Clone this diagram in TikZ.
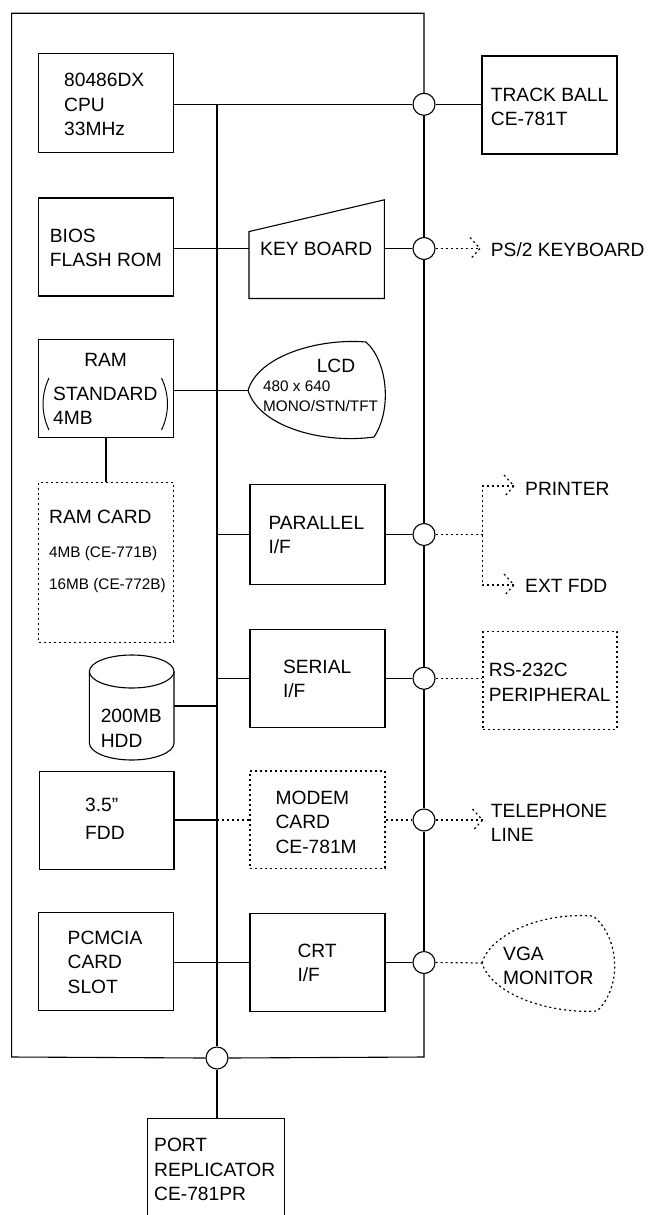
\documentclass[tikz,border=0pt]{standalone}
\usepackage{fontspec}
\setmainfont{Liberation Sans}
\usetikzlibrary{calc}
\newcommand\bigtxt{\fontsize{19.2}{24.5}\selectfont}
\newcommand\smalltxt{\fontsize{15.3}{20}\selectfont}
\tikzset{
  wire/.style={line width=1.1pt},
  dotl/.style={line width=1.2pt, dash pattern=on 2pt off 3pt},
  box/.style={draw, line width=1.1pt, inner sep=0pt, minimum width=135pt, minimum height=98pt},
  dbox/.style={box, solid, dotl},
  ghost/.style={inner sep=0pt, minimum width=135pt, minimum height=98pt},
  jn/.style={circle, draw, line width=1.1pt, minimum size=22pt, inner sep=0pt},
  txt/.style={anchor=base west, inner sep=0pt, align=left, font=\bigtxt},
}
\newcommand\dothead[1]{\draw[dotl] (#1) ++(-10,-11) -- (#1) -- ++(-10,11);}
\begin{document}
\begin{tikzpicture}[x=1pt,y=-1pt]
\useasboundingbox (0,0) rectangle (648,1215);
% junctions
\node[jn] (c1) at (424,104.3) {};
\node[jn] (c2) at (424,248.5) {};
\node[jn] (c3) at (424,534.5) {};
\node[jn] (c4) at (424,678.3) {};
\node[jn] (c5) at (424,820) {};
\node[jn] (c6) at (424,962.5) {};
\node[jn] (cb) at (217,1058) {};
% outer board outline
\coordinate (otr) at (424,13.3);
\coordinate (otl) at (11.6,13.3);
\coordinate (obl) at (11.6,1057);
\coordinate (obr) at (424,1057);
\draw[wire] (c1.north) -- (otr) -- (otl) -- (obl) -- (cb.west);
\draw[wire] (cb.east) -- (obr) -- (c6.south);
\draw[wire] (c6.north) -- (c5.south);
\draw[wire] (c5.north) -- (c4.south);
\draw[wire] (c4.north) -- (c3.south);
\draw[wire] (c3.north) -- (c2.south);
\draw[wire] (c2.north) -- (c1.south);
% boxes
\node[box, minimum height=99pt] (cpu) at (106,102.8) {};
\node[box] (tb) at (549.5,105) {};
\node[box] (bios) at (106,247) {};
\node[ghost, minimum height=98.3pt] (kb) at (316.7,249.15) {};
\draw[wire] (kb.south west) -- ($(kb.south west)!0.678!(kb.north west)$) -- (kb.north east) -- (kb.south east) -- cycle;
\node[box, minimum height=98.4pt] (ram) at (106,388.5) {};
\node[dbox, minimum height=159.6pt] (ramcard) at (106,562.5) {};
\node[box, minimum height=99.7pt] (par) at (317.5,534.2) {};
\node[box] (ser) at (317.5,678.3) {};
\node[dbox, minimum width=134pt, minimum height=97.6pt] (rs) at (550,680.5) {};
\node[box, minimum width=134.5pt, minimum height=97.6pt] (fdd) at (106.75,820.5) {};
\node[dbox, minimum height=97.3pt] (modem) at (317.5,819.7) {};
\node[box, minimum height=97.7pt] (pcm) at (106,961.2) {};
\node[box, minimum height=97.7pt] (crt) at (317.5,962.2) {};
\node[ghost, minimum width=136.5pt, minimum height=103.5pt] (port) at (215.75,1170.25) {};
\draw[wire] (port.south west) -- (port.north west) -- (port.north east) -- (port.south east);
% LCD
\coordinate (lcdL) at (248,390.5);
\draw[wire] (lcdL) .. controls (258,356) and (318,338) .. (366,342)
  .. controls (388,362) and (392,410) .. (374,437)
  .. controls (325,444) and (260,428) .. (lcdL);
% VGA monitor
\coordinate (vgaL) at (482,963);
\draw[dotl] (vgaL) .. controls (490,935) and (540,912) .. (593,916)
  .. controls (618,935) and (624,985) .. (597,1011)
  .. controls (550,1014) and (492,995) .. (vgaL);
% HDD
\coordinate (hddE) at (174,706);
\draw[wire] (131.7,671.5) ellipse [x radius=42.3, y radius=16.5];
\draw[wire] (89.4,671.5) -- (89.4,743) arc[start angle=180, end angle=0, x radius=42.3, y radius=17] -- (174,671.5);
% RAM parentheses
\draw[line width=1pt] (49,378) .. controls (41,395) and (41,413) .. (49,430);
\draw[line width=1pt] (161.5,378) .. controls (169.5,395) and (169.5,413) .. (161.5,430);
% bus
\coordinate (bt) at (217,104.3);
\draw[wire] (bt) -- (cb.north);
\draw[wire] (cb.south) -- (cb.south |- port.north);
% connectors
\draw[wire] (cpu.east |- c1) -- (c1.west);
\draw[wire] (c1.east) -- (tb.west |- c1);
\draw[wire] (bios.east |- c2) -- (kb.west |- c2);
\draw[wire] (kb.east |- c2) -- (c2.west);
\coordinate (pstip) at (480,248.5);
\draw[dotl] (c2.east) -- (pstip); \dothead{pstip}
\draw[wire] (ram.east |- lcdL) -- (lcdL);
\draw[wire] (ram.south) -- (ramcard.north);
\draw[wire] (bt |- c3) -- (par.west |- c3);
\draw[wire] (par.east |- c3) -- (c3.west);
\coordinate (pj) at (482.5,534.5);
\coordinate (pa) at (482.5,486);
\coordinate (pb) at (482.5,585);
\coordinate (prtip) at (514,486);
\coordinate (eftip) at (514,585);
\draw[dotl] (c3.east) -- (pj);
\draw[dotl] (prtip) -- (pa) -- (pb) -- (eftip);
\dothead{prtip} \dothead{eftip}
\draw[wire] (hddE) -- (bt |- hddE);
\draw[wire] (bt |- c4) -- (ser.west |- c4);
\draw[wire] (ser.east |- c4) -- (c4.west);
\draw[dotl] (c4.east) -- (rs.west |- c4);
\draw[wire] (fdd.east |- c5) -- (bt |- c5);
\draw[dotl] (bt |- c5) -- (modem.west |- c5);
\draw[dotl] (modem.east |- c5) -- (c5.west);
\coordinate (teltip) at (482.5,820);
\draw[dotl] (c5.east) -- (teltip); \dothead{teltip}
\draw[wire] (pcm.east |- c6) -- (crt.west |- c6);
\draw[wire] (crt.east |- c6) -- (c6.west);
\draw[dotl] (c6.east) -- (vgaL);
% texts (base anchor = baseline of the last line)
\node[txt] (tcpu) at (64,135.8) {80486DX\\CPU\\33MHz};
\node[txt] (ttb) at (490.7,125.6) {TRACK BALL\\CE-781T};
\node[txt] (tbios) at (49.7,266.5) {BIOS\\FLASH ROM};
\node[txt] (tkb) at (260,255.8) {KEY BOARD};
\node[txt] (tps) at (490.7,256.3) {PS/2 KEYBOARD};
\node[txt, anchor=base] (tram) at (105.6,366.8) {RAM};
\node[txt] (tstd) at (53,424.8) {STANDARD\\4MB};
\node[txt, anchor=base] (tlcd) at (336,372.5) {LCD};
\node[txt, font=\smalltxt] (tlcd2) at (263,411.5) {480 x 640\\MONO/STN/TFT};
\node[txt] (trc) at (49,523.5) {RAM CARD};
\node[txt, font=\smalltxt] (trc2) at (49,557) {4MB (CE-771B)};
\node[txt, font=\smalltxt] (trc3) at (49,589.4) {16MB (CE-772B)};
\node[txt] (tpar) at (268.3,553.8) {PARALLEL\\I/F};
\node[txt] (tpr) at (525,495.1) {PRINTER};
\node[txt] (tef) at (525,592.8) {EXT FDD};
\node[txt] (tser) at (282.8,697.8) {SERIAL\\I/F};
\node[txt] (trs) at (488.6,701) {RS-232C\\PERIPHERAL};
\node[txt] (thdd) at (100.6,747) {200MB\\HDD};
\node[txt] (tfdd) at (85,839.8) {3.5\symbol{34}\\[3.5pt]FDD};
\node[txt] (tmod) at (275.4,853) {MODEM\\CARD\\CE-781M};
\node[txt] (ttel) at (490.7,841.5) {TELEPHONE\\LINE};
\node[txt] (tpcm) at (67.5,993.3) {PCMCIA\\CARD\\SLOT};
\node[txt] (tcrt) at (297.3,981.5) {CRT\\I/F};
\node[txt] (tvga) at (503,984.5) {VGA\\MONITOR};
\node[txt] (tport) at (154,1200.8) {PORT\\REPLICATOR\\CE-781PR};
\end{tikzpicture}
\end{document}
